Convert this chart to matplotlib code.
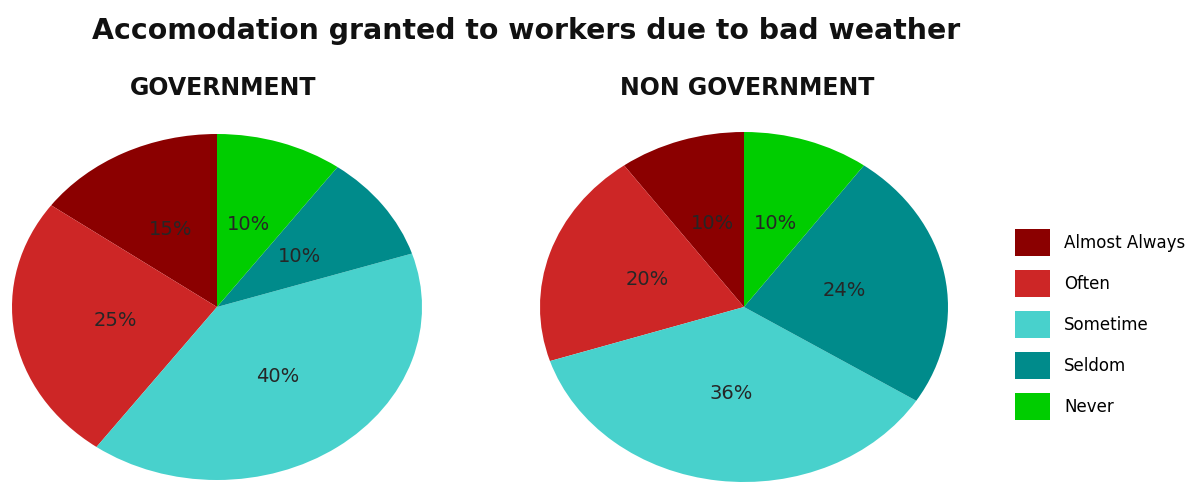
import matplotlib
matplotlib.use("Agg")
import matplotlib.pyplot as plt

categories = ["Almost Always", "Often", "Sometime", "Seldom", "Never"]
government = [15, 25, 40, 10, 10]
non_government = [10, 20, 36, 24, 10]
colors = ["#8B0000", "#CD2626", "#48D1CC", "#008B8B", "#00CD00"]
panel_titles = ["GOVERNMENT", "NON GOVERNMENT"]
main_title = "Accomodation granted to workers due to bad weather"

W, H = 1196, 483
fig = plt.figure(figsize=(W / 100, H / 100), dpi=100)
fig.patch.set_facecolor("white")


def px_axes(x0, y0, x1, y1):
    """Axes from pixel box (top-left origin)."""
    return fig.add_axes([x0 / W, 1 - y1 / H, (x1 - x0) / W, (y1 - y0) / H])


boxes = [(12, 134, 422, 480), (540, 132, 948, 482)]
wedges_ref = None
for box, values in zip(boxes, [government, non_government]):
    ax = px_axes(*box)
    wedges, _, autotexts = ax.pie(
        values, colors=colors, startangle=90, counterclock=True,
        autopct=lambda p: f"{p:.0f}%", pctdistance=0.5,
        wedgeprops=dict(linewidth=0),
        textprops=dict(fontsize=14, color="#262626", family="DejaVu Sans"),
    )
    ax.set_aspect("auto")
    ax.set_xlim(-1, 1)
    ax.set_ylim(-1, 1)
    ax.axis("off")
    if wedges_ref is None:
        wedges_ref = wedges

fig.text(526 / W, 1 - 31 / H, main_title, ha="center", va="center",
         fontsize=20.4, fontweight="bold", family="DejaVu Sans", color="#111111")
fig.text(223 / W, 1 - 88 / H, panel_titles[0], ha="center", va="center",
         fontsize=17, fontweight="bold", family="DejaVu Sans", color="#111111")
fig.text(747 / W, 1 - 88 / H, panel_titles[1], ha="center", va="center",
         fontsize=17, fontweight="bold", family="DejaVu Sans", color="#111111")

fs = 12
fig.legend(wedges_ref, categories, loc="upper left",
           bbox_to_anchor=(1015 / W, 1 - 229 / H), frameon=False,
           handlelength=2.1, handleheight=2.1,
           labelspacing=0.85, handletextpad=0.85, borderpad=0,
           borderaxespad=0, prop=dict(family="DejaVu Sans", size=fs))

fig.savefig("out.png", dpi=100, facecolor="white")
